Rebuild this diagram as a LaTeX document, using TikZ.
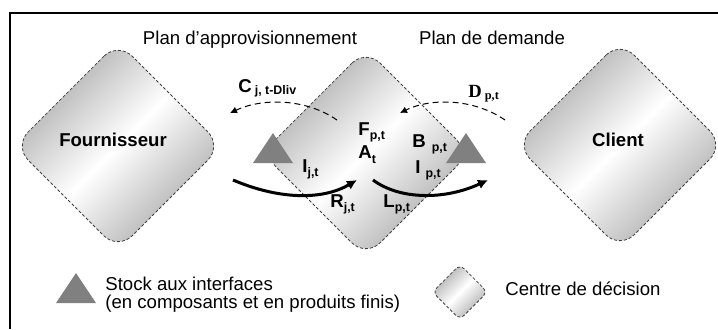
\documentclass[tikz,border=0pt]{standalone}
\usepackage{fontspec}
\setmainfont{Liberation Sans}
\newfontfamily\timesfont{Liberation Serif}
\usetikzlibrary{arrows.meta}

\definecolor{bordgris}{gray}{0.66}
\definecolor{stockgris}{gray}{0.5}

\newcommand\idx[2][2.3pt]{\raisebox{-#1}{\fontsize{6.2}{7}\selectfont #2}}

\tikzset{
  txt/.style={font=\fontsize{9.3}{9.3}\selectfont, inner sep=0pt},
  var/.style={font=\fontsize{9.3}{9.3}\selectfont\bfseries, inner sep=0pt, anchor=base west},
  centre/.style={draw=black!75, dash pattern=on 1.5pt off 1pt, line width=0.4pt, rotate=45,
    rounded corners=10pt, minimum size=73.5pt, shading=axis, top color=bordgris,
    bottom color=bordgris, middle color=white, shading angle=45},
  flux/.style={line width=1.5pt, -{Latex[length=5pt,width=5pt]}},
  info/.style={line width=0.5pt, dash pattern=on 3pt off 2pt, -{Latex[length=3.5pt,width=3.5pt]}},
  stock/.pic={\fill[stockgris] (-20,15) -- (0,-15) -- (20,15) -- cycle;}
}

\begin{document}
\begin{tikzpicture}[x=0.5pt, y=-0.5pt]
\useasboundingbox (0,0) rectangle (718,329);
\draw[line width=1.25pt] (10,329) -- (10,13) -- (718,13);

\path (250,44) node[txt, anchor=base] (planappro) {Plan d’approvisionnement}
      (492,44) node[txt, anchor=base] (plandem) {Plan de demande};

\path (118,146) node[centre] (fourn) {}
      (366,153) node[centre] (decideur) {}
      (620,145) node[centre] (client) {};
\path (113,146) node[var, anchor=base] (fournlbl) {Fournisseur}
      (618,146) node[var, anchor=base] (clientlbl) {Client};

\pic (stockcomp) at (273,148) {stock};
\pic (stockprod) at (466,148) {stock};

\coordinate (capp1) at (337,120);
\coordinate (capp2) at (230,113);
\coordinate (cdem1) at (505,120);
\coordinate (cdem2) at (400,113);
\draw[info] (capp1) .. controls (305,98) and (262,98) .. (capp2);
\draw[info] (cdem1) .. controls (473,98) and (430,98) .. (cdem2);

\coordinate (fappro1) at (233,180);
\coordinate (fappro2) at (357,180);
\coordinate (fdem1) at (373,180);
\coordinate (fdem2) at (488,180);
\draw[flux] (fappro1) .. controls (280,200) and (323,200) .. (fappro2);
\draw[flux] (fdem1) .. controls (400,200) and (445,200) .. (fdem2);

\path (238,92) node[var] (cvar) {C\hspace{1.5pt}\idx[1pt]{j, t-Dliv}}
      (468,97) node[var, font=\fontsize{9.3}{9.3}\selectfont\timesfont\bfseries] (dvar) {D\hspace{1.5pt}\idx[1pt]{p,t}}
      (358,135) node[var] (fvar) {F\idx{p,t}}
      (358,158) node[var] (avar) {A\idx[2.5pt]{t}}
      (412,147) node[var] (bvar) {B\hspace{3pt}\idx{p,t}}
      (415,173) node[var] (ipvar) {I\hspace{2.5pt}\idx{p,t}}
      (302,172) node[var] (ijvar) {I\idx{j,t}}
      (330,207) node[var] (rvar) {R\idx{j,t}}
      (383,207) node[var] (lvar) {L\idx{p,t}};

\pic (legstock) at (76,288) {stock};
\path (105,290) node[txt, anchor=base west] (legstock1) {Stock aux interfaces}
      (105,308) node[txt, anchor=base west] (legstock2) {(en composants et en produits finis)};
\path (460,292) node[centre, minimum size=19.4pt, rounded corners=3pt] (legcentre) {}
      (505,295) node[txt, anchor=base west] (legcentrelbl) {Centre de décision};
\end{tikzpicture}
\end{document}
